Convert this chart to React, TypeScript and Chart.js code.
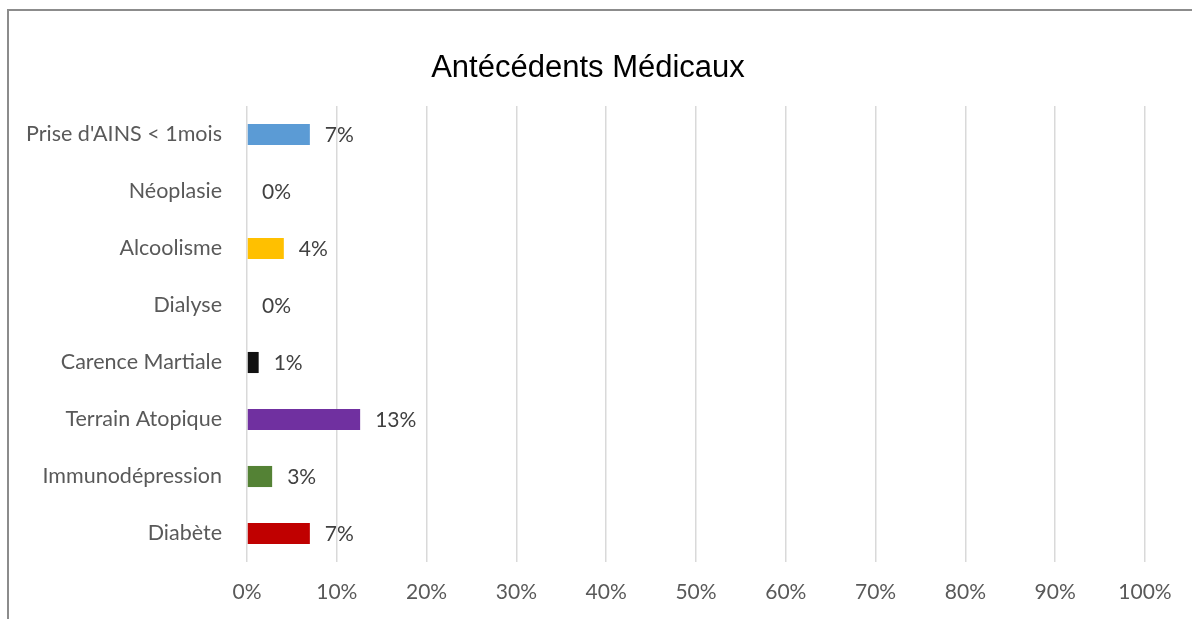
import React, { useEffect, useRef } from "react";
import { Chart, registerables } from "chart.js";

Chart.register(...registerables);

const TITLE = "Antécédents Médicaux";
const categories = [
  "Prise d'AINS < 1mois",
  "Néoplasie",
  "Alcoolisme",
  "Dialyse",
  "Carence Martiale",
  "Terrain Atopique",
  "Immunodépression",
  "Diabète",
];
const values = [7.0, 0, 4.1, 0, 1.3, 12.6, 2.8, 7.0];
const barColors = ["#5B9BD5", "#A5A5A5", "#FFC000", "#A5A5A5", "#111111", "#7030A0", "#548235", "#C00000"];
const xTicks = [0, 10, 20, 30, 40, 50, 60, 70, 80, 90, 100];

const FONT = "Lato";

export default function App() {
  const ref = useRef<HTMLCanvasElement | null>(null);

  useEffect(() => {
    if (!ref.current) return;
    const labelPlugin = {
      id: "barLabels",
      afterDatasetsDraw(chart: any) {
        const ctx = chart.ctx;
        const meta = chart.getDatasetMeta(0);
        ctx.save();
        ctx.font = `21px ${FONT}`;
        ctx.fillStyle = "#404040";
        ctx.textAlign = "left";
        ctx.textBaseline = "middle";
        meta.data.forEach((el: any, i: number) => {
          ctx.fillText(Math.round(values[i]) + "%", el.x + 15, el.y + 1);
        });
        ctx.restore();
      },
    };
    const titlePlugin = {
      id: "customTitle",
      afterDraw(chart: any) {
        const ctx = chart.ctx;
        ctx.save();
        ctx.font = `31px "Liberation Sans", Arial`;
        ctx.fillStyle = "#000000";
        ctx.textAlign = "center";
        ctx.textBaseline = "middle";
        ctx.fillText(TITLE, 588, 68);
        ctx.restore();
      },
    };
    const chart = new Chart(ref.current, {
      type: "bar",
      data: {
        labels: categories,
        datasets: [
          {
            data: values,
            backgroundColor: barColors,
            categoryPercentage: 1,
            barPercentage: 0.37,
          },
        ],
      },
      options: {
        indexAxis: "y",
        animation: false,
        responsive: false,
        maintainAspectRatio: false,
        layout: { padding: { left: 0, right: 47, top: 106, bottom: 0 } },
        plugins: { legend: { display: false }, tooltip: { enabled: false }, title: { display: false } },
        scales: {
          x: {
            min: 0,
            max: 100,
            afterFit(scale: any) {
              scale.height = 57;
            },
            afterBuildTicks(scale: any) {
              scale.ticks = xTicks.map((v) => ({ value: v }));
            },
            ticks: {
              callback: (v: any) => v + "%",
              color: "#595959",
              font: { family: FONT, size: 21 },
              padding: 18,
              maxRotation: 0,
            },
            grid: { color: "#d9d9d9", lineWidth: 1.5, drawTicks: false },
            border: { display: false },
          },
          y: {
            afterFit(scale: any) {
              scale.width = 247;
            },
            ticks: {
              color: "#595959",
              font: { family: FONT, size: 21.5 },
              padding: 25,
            },
            grid: { display: false, drawTicks: false },
            border: { display: false },
          },
        },
      },
      plugins: [labelPlugin, titlePlugin],
    });
    return () => chart.destroy();
  }, []);

  return (
    <div style={{ position: "fixed", left: 0, top: 0, width: 1192, height: 619, overflow: "hidden", background: "#fff" }}>
      <div
        style={{
          position: "absolute",
          left: 7,
          top: 9,
          width: 1300,
          height: 700,
          border: "2px solid #8c8c8c",
        }}
      />
      <canvas ref={ref} width={1192} height={619} style={{ position: "absolute", left: 0, top: 0, width: 1192, height: 619 }} />
    </div>
  );
}
